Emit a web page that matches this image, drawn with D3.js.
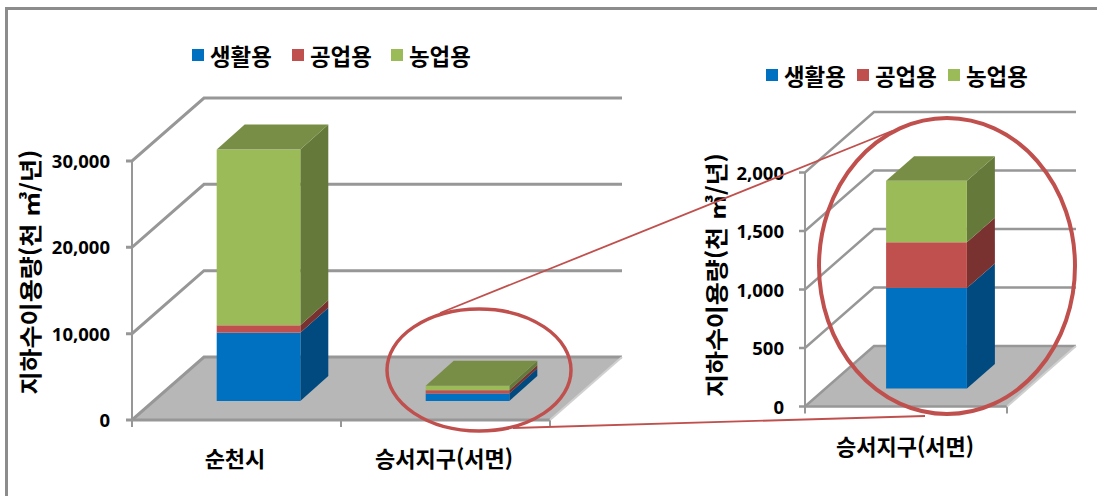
<!DOCTYPE html>
<html lang="ko">
<head>
<meta charset="utf-8">
<script src="https://cdn.jsdelivr.net/npm/d3@7/dist/d3.min.js"></script>
<style>
  html, body { margin: 0; padding: 0; background: #fff; }
  svg { display: block; }
  text { font-family: "Noto Sans CJK KR", "Noto Sans", sans-serif; fill: #000; }
</style>
</head>
<body>
<svg id="chart" width="1097" height="496"></svg>
<script>
// Groundwater use by purpose (thousand m3 per year)
const seriesNames = ["생활용", "공업용", "농업용"];
const categories = ["순천시", "승서지구(서면)"];
const domesticUse = [7910, 860];
const industrialUse = [860, 390];
const farmingUse = [20350, 525];
const leftTicks = [0, 10000, 20000, 30000];
const rightTicks = [0, 500, 1000, 1500, 2000];
const axisTitle = "지하수이용량(천 ㎥/년)";

const rows = categories.map((c, i) => ({
  category: c,
  [seriesNames[0]]: domesticUse[i],
  [seriesNames[1]]: industrialUse[i],
  [seriesNames[2]]: farmingUse[i]
}));
const stacked = d3.stack().keys(seriesNames)(rows);

const faceColors = {
  [seriesNames[0]]: { front: "#0070c0", side: "#004a80", top: "#005a9c" },
  [seriesNames[1]]: { front: "#c0504d", side: "#7a3230", top: "#93403d" },
  [seriesNames[2]]: { front: "#9bbb59", side: "#657a3a", top: "#788e46" }
};
const gridColor = "#979797";
const floorColor = "#b7b7b7";
const calloutColor = "#c0504d";

const svg = d3.select("#chart");

// Outer frame, open on the right and bottom
svg.append("path")
  .attr("d", d3.line()([[6.5, 496], [6.5, 8.5], [1097, 8.5]]))
  .attr("fill", "none").attr("stroke", "#8c8c8c").attr("stroke-width", 3);

// Draws one pseudo-3D stacked column panel
function drawPanel(p) {
  const g = svg.append("g");
  const y = d3.scaleLinear().domain(p.domain).range([p.y0, p.yMax]);
  const x = d3.scaleBand().domain(p.categories)
    .range([p.x0, p.x1]).paddingInner(0.6).paddingOuter(0.3);
  const line = d3.line();

  // Floor
  g.append("polygon")
    .attr("points", [[p.x0, p.y0], [p.x0 + p.dx, p.y0 - p.dy], [p.x1 + p.dx, p.y0 - p.dy], [p.x1, p.y0]].join(" "))
    .attr("fill", floorColor);

  // Vertical axis
  g.append("path")
    .attr("d", line([[p.x0, p.y0], [p.x0, y(p.ticks[p.ticks.length - 1])]]))
    .attr("stroke", gridColor).attr("stroke-width", 2).attr("fill", "none");

  // Gridlines wrapping from the side wall to the back wall, with tick marks and labels
  p.ticks.forEach(t => {
    const ty = y(t);
    g.append("path")
      .attr("d", line([[p.x0 - 6, ty], [p.x0, ty], [p.x0 + p.dx, ty - p.dy], [p.x1 + p.dx, ty - p.dy]]))
      .attr("fill", "none").attr("stroke", gridColor).attr("stroke-width", p.gridWidth);
    g.append("text")
      .attr("x", p.labelX).attr("y", ty + 2)
      .attr("text-anchor", "end").attr("dominant-baseline", "middle")
      .attr("font-weight", 700).attr("font-size", 18.5)
      .style("font-family", "'Noto Sans', sans-serif")
      .text(d3.format(",")(t));
  });

  // Front edge of the floor and category tick marks
  g.append("path")
    .attr("d", line([[p.x0, p.y0], [p.x1, p.y0]]))
    .attr("stroke", gridColor).attr("stroke-width", p.gridWidth).attr("fill", "none");
  const edges = p.categories.map(c => x(c) - x.step() * 0.3).concat([p.x1]);
  edges.forEach(ex => {
    g.append("path")
      .attr("d", line([[ex, p.y0], [ex, p.y0 + 7]]))
      .attr("stroke", gridColor).attr("stroke-width", 2);
  });
  g.append("path")
    .attr("d", line([[p.x1, p.y0], [p.x1 + p.dx, p.y0 - p.dy]]))
    .attr("stroke", "#d0d0d0").attr("stroke-width", 2);

  // Columns: each box sits at mid depth on the floor
  const depthX = p.barDx, depthY = p.barDy;
  const shiftX = (p.dx - depthX) / 2, shiftY = (p.dy - depthY) / 2;
  p.categories.forEach(c => {
    const left = x(c) + shiftX, right = left + x.bandwidth();
    const rowIndex = categories.indexOf(c);
    stacked.forEach(layer => {
      const [v0, v1] = layer[rowIndex];
      const yb = y(v0) - shiftY, yt = y(v1) - shiftY;
      const col = faceColors[layer.key];
      g.append("polygon")
        .attr("points", [[right, yb], [right + depthX, yb - depthY], [right + depthX, yt - depthY], [right, yt]].join(" "))
        .attr("fill", col.side);
      g.append("rect")
        .attr("x", left).attr("y", yt)
        .attr("width", x.bandwidth()).attr("height", yb - yt)
        .attr("fill", col.front);
      if (layer.key === seriesNames[seriesNames.length - 1]) {
        g.append("polygon")
          .attr("points", [[left, yt], [left + depthX, yt - depthY], [right + depthX, yt - depthY], [right, yt]].join(" "))
          .attr("fill", col.top);
      }
    });
  });

  // Category labels
  p.categories.forEach((c, i) => {
    g.append("text")
      .attr("x", p.catX[i]).attr("y", p.catY)
      .attr("text-anchor", "middle").attr("dominant-baseline", "middle")
      .attr("font-size", 22).attr("font-weight", 700)
      .text(c);
  });

  // Rotated axis title
  g.append("text")
    .attr("transform", `translate(${p.titleX},${p.titleY}) rotate(-90)`)
    .attr("text-anchor", "middle").attr("dominant-baseline", "middle")
    .attr("font-size", 23).attr("font-weight", 700)
    .attr("textLength", p.titleLength).attr("lengthAdjust", "spacingAndGlyphs")
    .text(axisTitle);

  // Legend
  seriesNames.forEach((name, i) => {
    g.append("rect")
      .attr("x", p.legendX[i]).attr("y", p.legendY)
      .attr("width", 12).attr("height", 12)
      .attr("fill", faceColors[name].front);
    g.append("text")
      .attr("x", p.legendX[i] + 18).attr("y", p.legendY + 10)
      .attr("dominant-baseline", "middle")
      .attr("font-size", 22.4).attr("font-weight", 700)
      .text(name);
  });
}

drawPanel({
  domain: [0, 30000], ticks: leftTicks, categories: categories,
  x0: 132, x1: 550, y0: 420, yMax: 161,
  dx: 72, dy: 63, barDx: 28, barDy: 25, gridWidth: 3,
  labelX: 110, catX: [235, 444], catY: 461,
  titleX: 33, titleY: 272, titleLength: 245,
  legendX: [192, 292, 391], legendY: 49
});

drawPanel({
  domain: [0, 2000], ticks: rightTicks, categories: [categories[1]],
  x0: 805, x1: 1007, y0: 406.5, yMax: 172.5,
  dx: 69, dy: 60.5, barDx: 28, barDy: 24.5, gridWidth: 2.5,
  labelX: 784, catX: [905], catY: 449,
  titleX: 719, titleY: 275, titleLength: 244,
  legendX: [766, 857, 948], legendY: 69
});

// Callout rings and the lines joining them
const callout = svg.append("g").attr("fill", "none").attr("stroke", calloutColor);
callout.append("path")
  .attr("d", d3.line()([[440, 313], [892, 131]]))
  .attr("stroke-width", 1.8);
callout.append("path")
  .attr("d", d3.line()([[513, 428], [925, 416]]))
  .attr("stroke-width", 1.8);
callout.append("ellipse")
  .attr("cx", 479).attr("cy", 370).attr("rx", 92).attr("ry", 61)
  .attr("stroke-width", 3.5);
callout.append("ellipse")
  .attr("cx", 947).attr("cy", 266).attr("rx", 128).attr("ry", 148)
  .attr("stroke-width", 4);
</script>
</body>
</html>
